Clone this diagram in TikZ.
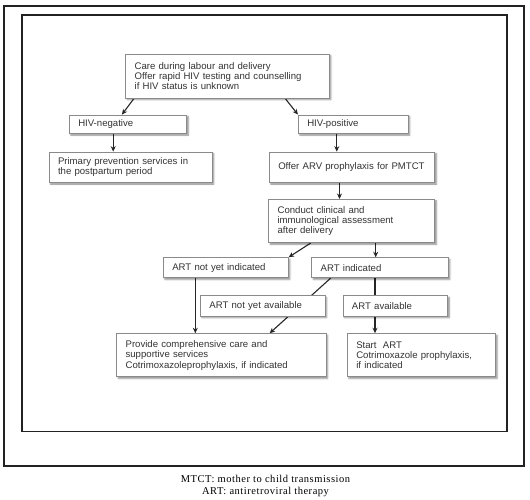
\documentclass[tikz,border=0pt]{standalone}
\usepackage{fontspec}
\setmainfont{Liberation Sans}
\newfontfamily\capfont[LetterSpace=5]{Liberation Serif}
\usetikzlibrary{arrows.meta,shadows.blur,backgrounds}
\definecolor{boxline}{RGB}{138,138,138}
\definecolor{boxtext}{RGB}{51,51,51}
\definecolor{frameline}{RGB}{34,34,34}

\begin{document}
\begin{tikzpicture}[x=1pt, y=-1pt,
    flowbox/.style={draw=boxline, line width=0.7pt, fill=white, text=boxtext,
      font=\fontsize{9.6}{10.4}\selectfont, align=left, inner xsep=9pt, inner ysep=0pt,
      blur shadow={shadow xshift=1.6pt, shadow yshift=-1.6pt, shadow blur radius=1.6pt, shadow opacity=45}},
    flowarrow/.style={line width=1.1pt, draw=black!85, -{Stealth[length=5.5pt,width=5pt]}},
    flowline/.style={line width=1.1pt, draw=black!85}]
    \useasboundingbox (0,0) rectangle (530,500);

    % Outer and inner frames
    \draw[frameline, line width=2pt] (3.7,6) rectangle (524.3,466);
    \draw[frameline, line width=1.7pt] (21.7,14.7) rectangle (506.7,431.5);

    % Boxes
    \node[flowbox, text width=185.7pt, minimum height=44pt] (care) at (227.5,76)
        {Care during labour and delivery\\Offer rapid HIV testing and counselling\\if HIV status is unknown};
    \node[flowbox, text width=99.5pt, minimum height=18.5pt] (neg) at (128,124.2) {HIV-negative};
    \node[flowbox, text width=91.8pt, minimum height=18.5pt] (pos) at (353.2,124.2) {HIV-positive};
    \node[flowbox, text width=145.2pt, minimum height=30.4pt] (prim) at (130.6,167.2)
        {Primary prevention services in\\the postpartum period};
    \node[flowbox, text width=147.5pt, minimum height=30.4pt] (arv) at (352,167.2)
        {Offer ARV prophylaxis for PMTCT};
    \node[flowbox, text width=148.2pt, minimum height=43.3pt] (assess) at (351.7,221)
        {Conduct clinical and\\immunological assessment\\after delivery};
    \node[flowbox, text width=107pt, minimum height=20.2pt] (notind) at (225.8,267.7) {ART not yet indicated};
    \node[flowbox, text width=118.6pt, minimum height=20.2pt] (artind) at (380,267.7) {ART indicated};
    \node[flowbox, text width=106.7pt, minimum height=20.3pt] (notavail) at (262.7,305.9) {ART not yet available};
    \node[flowbox, text width=86.7pt, minimum height=20.3pt] (avail) at (395.3,305.9) {ART available};
    \node[flowbox, text width=191.4pt, minimum height=43.2pt] (provide) at (221.3,355.2)
        {Provide comprehensive care and\\supportive services\\Cotrimoxazoleprophylaxis, if indicated};
    \node[flowbox, text width=130.2pt, minimum height=43.2pt] (start) at (421.4,355.2)
        {Start\ \ ART\\Cotrimoxazole prophylaxis,\\if indicated};

    % Connectors (behind the boxes)
    \begin{scope}[on background layer]
    \draw[flowarrow] ([xshift=8.8pt]care.south west) -- ([xshift=53pt]neg.north west);
    \draw[flowarrow] ([xshift=-44.6pt]care.south east) -- (pos.north west);
    \draw[flowarrow] ([xshift=-14.8pt]neg.south) -- ([xshift=-14.8pt]neg.south |- prim.north);
    \draw[flowarrow] ([xshift=-16.4pt]pos.south) -- ([xshift=-16.4pt]pos.south |- arv.north);
    \draw[flowarrow] ([xshift=-12.5pt]arv.south) -- ([xshift=-12.5pt]arv.south |- assess.north);
    \draw[flowarrow] ([xshift=42.5pt]assess.south west) -- (notind.north east);
    \draw[flowarrow] ([xshift=24pt]assess.south) -- ([xshift=24pt]assess.south |- artind.north);
    \draw[flowarrow] ([xshift=-30.5pt]notind.south) -- ([xshift=-30.5pt]notind.south |- provide.north);
    \draw[flowarrow] ([xshift=19.3pt]artind.south west) -- ([xshift=-56.7pt]provide.north east);
    \draw[flowline] ([xshift=-5pt]artind.south) -- ([xshift=-5pt]artind.south |- avail.north);
    \draw[flowarrow] ([xshift=-20.3pt]avail.south) -- ([xshift=-20.3pt]avail.south |- start.north);
    \end{scope}

    % Caption
    \node[font=\capfont\fontsize{10.5}{12}\selectfont, align=center] (caption) at (265.5,485.5)
        {MTCT: mother to child transmission\\ART: antiretroviral therapy};
\end{tikzpicture}
\end{document}
